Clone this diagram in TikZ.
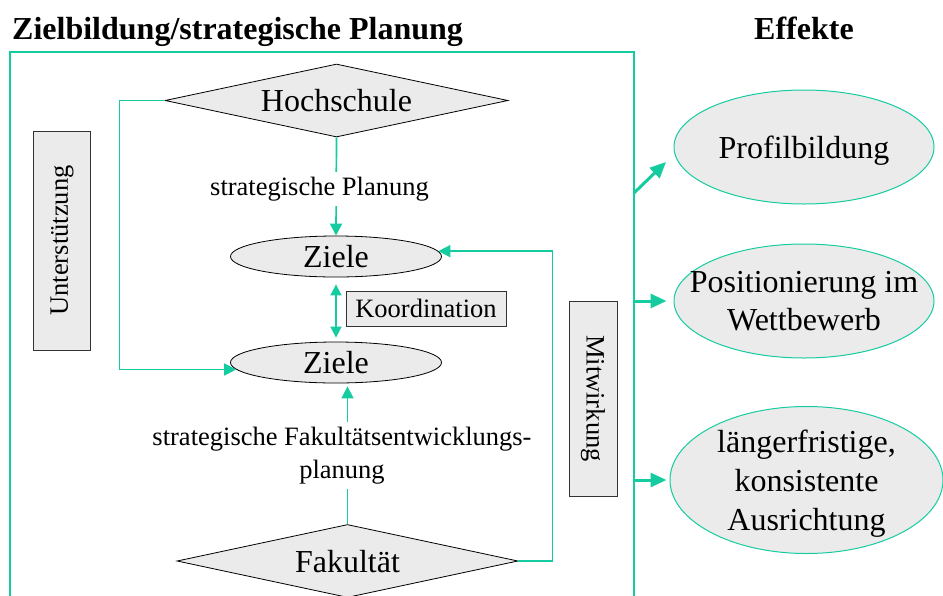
\documentclass[tikz,border=0pt]{standalone}
\usepackage{fontspec}
\setmainfont{Liberation Serif}
\usetikzlibrary{shapes.geometric,arrows.meta}
\definecolor{teal1}{RGB}{20,204,160}
\definecolor{gfill}{RGB}{235,235,235}
\begin{document}
\begin{tikzpicture}[x=1pt,y=-1pt,
  big/.style={font=\fontsize{32}{38}\selectfont, text depth=0pt},
  small/.style={font=\fontsize{26.5}{33}\selectfont},
  title/.style={font=\fontsize{32}{38}\selectfont\bfseries, inner sep=0pt, anchor=base west},
  dia/.style={diamond, draw=black, line width=0.8pt, fill=gfill, aspect=4.7, minimum width=343pt, minimum height=73pt, inner sep=0pt, big},
  goal/.style={ellipse, draw=black, line width=0.8pt, fill=gfill, minimum width=211pt, minimum height=41pt, inner sep=0pt, big},
  effect/.style={ellipse, draw=teal1, line width=1pt, fill=gfill, inner xsep=-60pt, inner ysep=-30pt, big, align=center},
  sidebox/.style={rectangle, draw=black!80, line width=1pt, fill=gfill, inner sep=0pt, small},
  conn/.style={draw=teal1, line width=1.7pt, -{Triangle[length=12pt,width=12pt]}},
  effarrow/.style={draw=teal1, line width=3pt, -{Triangle[length=16pt,width=14pt]}},
  lbl/.style={small, fill=white, inner sep=5pt, align=center},
]
\useasboundingbox (0,0) rectangle (943,595);

% titles
\node[title] (t1) at (12,39) {Zielbildung/strategische Planung};
\node[title, anchor=base] (t2) at (804,39) {Effekte};

% frame
\draw[teal1, line width=1.7pt] (10,600) -- (10,52) -- (634,52) -- (634,600);
\coordinate (f1) at (634,193);
\coordinate (p1) at (666,162);
\coordinate (f2) at (634,301);
\coordinate (f3) at (634,480);

% left part nodes
\node[dia] (hs) at (336.5,100.5) {Hochschule};
\node[goal] (z1) at (336,256.5) {Ziele};
\node[goal] (z2) at (336,362.5) {Ziele};
\node[dia, minimum width=341pt] (fk) at (347.5,561) {Fakultät};
\node[sidebox, minimum width=160pt, minimum height=35pt] (ko) at (426,308.5) {Koordination};
\node[sidebox, rotate=90, minimum width=219pt, minimum height=57pt] (us) at (62,240.5) {Unterstützung};
\node[sidebox, rotate=-90, minimum width=195pt, minimum height=48pt] (mw) at (593,398.5) {Mitwirkung};

% effects
\node[effect, minimum width=260pt, minimum height=114pt] (e1) at (804,147) {Profilbildung};
\node[effect, minimum width=260pt, minimum height=114pt, font=\fontsize{32}{37.5}\selectfont] (e2) at (804,301) {Positionierung im\\Wettbewerb};
\node[effect, minimum width=273pt, minimum height=147pt, font=\fontsize{32}{39}\selectfont] (e3) at (806.5,480) {längerfristige,\\konsistente\\Ausrichtung};

% connectors
\draw[conn] (hs.south) -- (z1.north);
\node[lbl] (l1) at (319.5,189) {strategische Planung};
\draw[teal1, line width=1.7pt, {Triangle[length=11pt,width=11pt]}-{Triangle[length=11pt,width=11pt]}, shorten <=7pt, shorten >=4pt] (z1.south) -- (z2.north);
\draw[conn] (hs.west) -- ++(-45,0) |- (z2.184);
\draw[conn, shorten >=3pt] (fk.north) -- (fk.north |- z2.south);
\node[lbl] (l2) at (342,455.5) {strategische Fakultätsentwicklungs-\\planung};
\draw[conn] (fk.east) -- ++(34,0) |- (z1.3);

% effect arrows
\draw[effarrow] (f1) -- (p1);
\draw[effarrow, shorten >=7pt] (f2) -- (e2.west);
\draw[effarrow, shorten >=3pt] (f3) -- (e3.west);
\end{tikzpicture}
\end{document}
